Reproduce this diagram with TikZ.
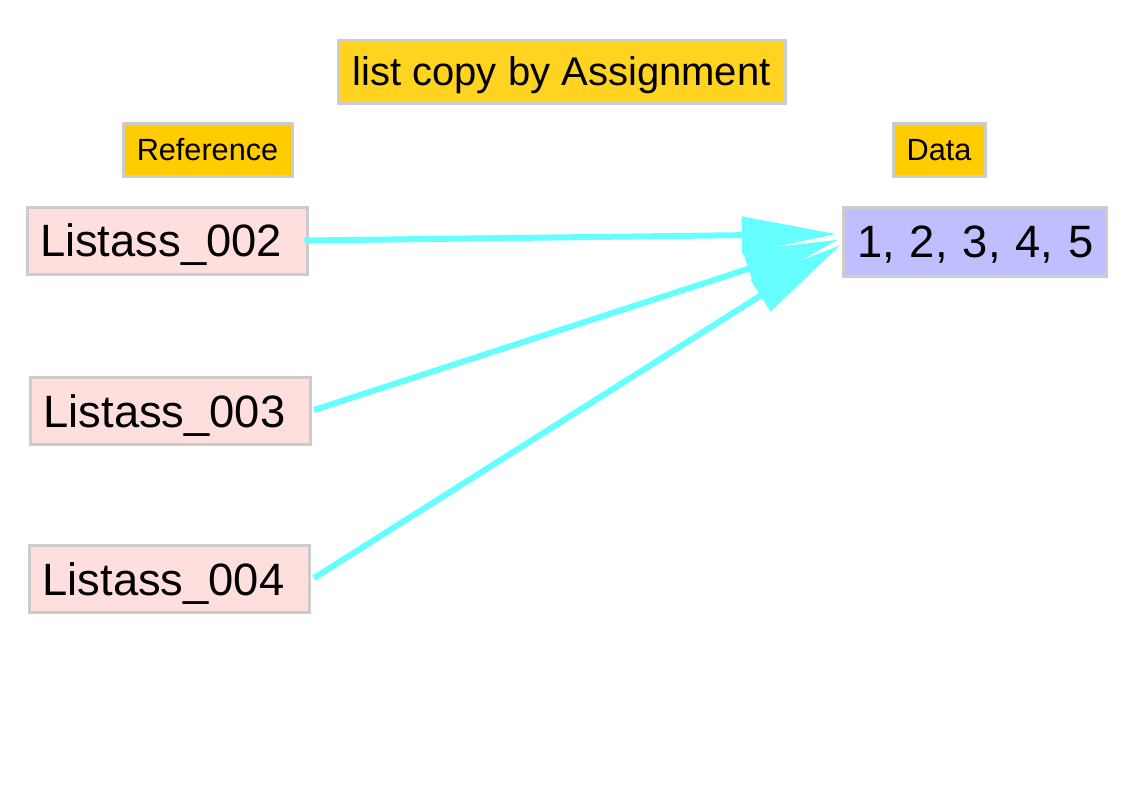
\documentclass[tikz,border=0pt]{standalone}
\usepackage{fontspec}
\setmainfont{Liberation Sans}
\usetikzlibrary{arrows.meta,calc}
\definecolor{boxgray}{HTML}{CCCCCC}
\definecolor{pinkfill}{HTML}{FFDEDE}
\definecolor{goldfill}{HTML}{FFD320}
\definecolor{yellowfill}{HTML}{FFCC00}
\definecolor{bluefill}{HTML}{BFBFFF}
\definecolor{arrcyan}{HTML}{66FFFF}
\tikzset{
  box/.style={draw=boxgray, line width=2.25pt, inner ysep=0pt, text depth=0pt},
  refbox/.style={box, fill=pinkfill, font=\fontsize{34}{40}\selectfont, text height=24.5pt, inner xsep=9.75pt, text width=190.5pt, align=left, minimum height=50.25pt},
  tagbox/.style={box, fill=yellowfill, font=\fontsize{23}{28}\selectfont, text height=16.6pt, inner xsep=0pt, minimum height=39.75pt},
  conn/.style={draw=arrcyan, line width=4.5pt, -{Triangle[length=71pt, width=27pt]}}
}
\begin{document}
\begin{tikzpicture}[x=0.75pt, y=-0.75pt]
\useasboundingbox (0,0) rectangle (1123,794);
\node[box, fill=goldfill, font=\fontsize{30}{36}\selectfont, text height=21.6pt, minimum width=335.25pt, minimum height=47.25pt, inner xsep=0pt] (title) at (561.5,71.5) {list copy by Assignment};
\node[tagbox, minimum width=126.75pt] (reflabel) at (207.5,149.5) {Reference};
\node[tagbox, minimum width=69pt] (datalabel) at (939,149.5) {Data};
\node[refbox] (l2) at (167,240.5) {\mbox{Listass\_002}};
\node[refbox] (l3) at (170.5,411) {\mbox{Listass\_003}};
\node[refbox] (l4) at (169.5,579) {\mbox{Listass\_004}};
\node[box, fill=bluefill, font=\fontsize{34}{40}\selectfont, text height=24.5pt, inner xsep=10.5pt, text width=176.25pt, align=left, minimum height=51.75pt] (vals) at (974.5,241.5) {\mbox{1, 2, 3, 4, 5}};
\draw[conn] ($(l2.east)+(-4,0)$) -- ($(vals.west)+(-5,-7.5)$);
\draw[conn] ($(l3.east)+(2,-1)$) -- ($(vals.west)+(-3,-2)$);
\draw[conn] ($(l4.east)+(3,-1)$) -- ($(vals.west)+(-1,3.5)$);
\end{tikzpicture}
\end{document}
